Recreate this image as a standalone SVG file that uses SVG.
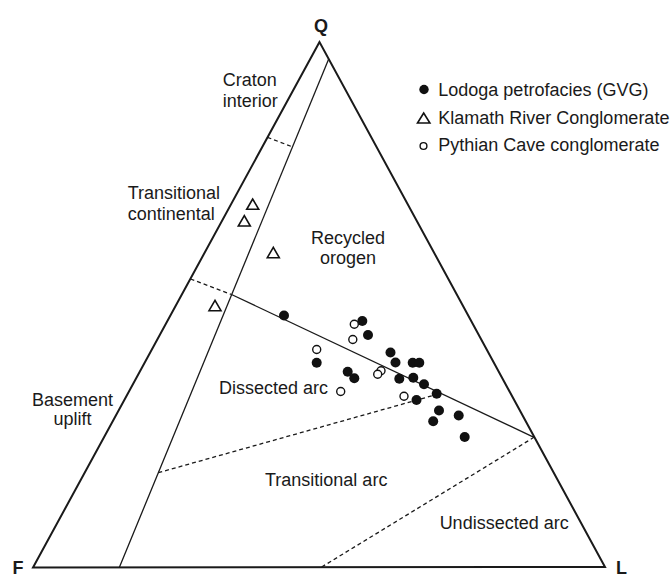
<svg xmlns="http://www.w3.org/2000/svg" width="672" height="577" viewBox="0 0 672 577">
<style>
text{font-family:"Liberation Sans",Arial,sans-serif;fill:#1a1a1a;font-size:18px}
.ax{font-weight:bold}
.edge{fill:none;stroke:#1a1a1a;stroke-width:2;stroke-linejoin:miter}
.sl{fill:none;stroke:#1a1a1a;stroke-width:1.3}
.dl{fill:none;stroke:#1a1a1a;stroke-width:1.3;stroke-dasharray:4 3}
.f{fill:#111}
.o{fill:#fff;stroke:#111;stroke-width:1.4}
.t{fill:#fff;stroke:#111;stroke-width:1.6;stroke-linejoin:miter}
</style>
<rect width="672" height="577" fill="#fff"/>
<g id="connectors">
<polygon class="edge" points="319.5,42 33,567.5 605,567"/>
<line class="sl" x1="328.7" y1="59" x2="119.3" y2="567.5"/>
<line class="dl" x1="267.5" y1="137.3" x2="292" y2="146.7"/>
<line class="dl" x1="190.5" y1="279" x2="231.5" y2="294.5"/>
<line class="sl" x1="231.5" y1="294.5" x2="534" y2="437.3"/>
<line class="dl" x1="158.3" y1="472.7" x2="440.6" y2="393.4"/>
<line class="dl" x1="321.7" y1="567" x2="534" y2="437.3"/>
</g>
<g id="axis-labels">
<text class="ax" x="321" y="32" font-size="21" text-anchor="middle">Q</text>
<text class="ax" x="12.5" y="573.5" font-size="19">F</text>
<text class="ax" x="616" y="573.5" font-size="19">L</text>
</g>
<g id="field-labels">
<text x="222.7" y="86">Craton</text>
<text x="222.7" y="107">interior</text>
<text x="127.7" y="199">Transitional</text>
<text x="127.7" y="220">continental</text>
<text x="72.5" y="406" text-anchor="middle">Basement</text>
<text x="72.5" y="425" text-anchor="middle">uplift</text>
<text x="348" y="244" text-anchor="middle">Recycled</text>
<text x="348" y="264" text-anchor="middle">orogen</text>
<text x="219" y="393.5">Dissected arc</text>
<text x="265" y="486">Transitional arc</text>
<text x="568.7" y="529" text-anchor="end">Undissected arc</text>
</g>
<g id="legend">
<circle class="f" cx="424" cy="89.5" r="4.7"/>
<text x="438.3" y="95.5">Lodoga petrofacies (GVG)</text>
<polygon class="t" points="423.7,113 417.5,123 429.9,123"/>
<text x="438.3" y="123.5">Klamath River Conglomerate</text>
<circle class="o" cx="423.5" cy="146" r="3.4"/>
<text x="438.3" y="151">Pythian Cave conglomerate</text>
</g>
<g id="klamath-points">
<polygon class="t" points="252.7,199 246.7,209.3 258.7,209.3"/>
<polygon class="t" points="244.3,215.7 238.3,226 250.3,226"/>
<polygon class="t" points="273.3,247.4 267.3,257.7 279.3,257.7"/>
<polygon class="t" points="215,300.4 209,310.7 221,310.7"/>
</g>
<g id="lodoga-points">
<circle class="f" cx="284" cy="315.5" r="5"/>
<circle class="f" cx="362.3" cy="321" r="5"/>
<circle class="f" cx="368" cy="335" r="5"/>
<circle class="f" cx="316.7" cy="362.7" r="5"/>
<circle class="f" cx="347.7" cy="371.7" r="5"/>
<circle class="f" cx="354.3" cy="378.3" r="5"/>
<circle class="f" cx="390.5" cy="352.5" r="5"/>
<circle class="f" cx="395.5" cy="362.5" r="5"/>
<circle class="f" cx="412.7" cy="362.7" r="5"/>
<circle class="f" cx="419.3" cy="362.7" r="5"/>
<circle class="f" cx="399.3" cy="378.8" r="5"/>
<circle class="f" cx="413.3" cy="377.7" r="5"/>
<circle class="f" cx="424" cy="384.3" r="5"/>
<circle class="f" cx="436.7" cy="393.8" r="5"/>
<circle class="f" cx="416.5" cy="400" r="5"/>
<circle class="f" cx="439" cy="410.5" r="5"/>
<circle class="f" cx="458.7" cy="415.5" r="5"/>
<circle class="f" cx="433.2" cy="421.3" r="5"/>
<circle class="f" cx="464.7" cy="437" r="5"/>
</g>
<g id="pythian-points">
<circle class="o" cx="354.3" cy="324.3" r="4"/>
<circle class="o" cx="352.8" cy="339.5" r="4"/>
<circle class="o" cx="316.7" cy="349.5" r="4"/>
<circle class="o" cx="381" cy="370.7" r="4"/>
<circle class="o" cx="377.7" cy="374.3" r="4"/>
<circle class="o" cx="340.7" cy="391.5" r="4"/>
<circle class="o" cx="404" cy="396.3" r="4"/>
</g>
</svg>
